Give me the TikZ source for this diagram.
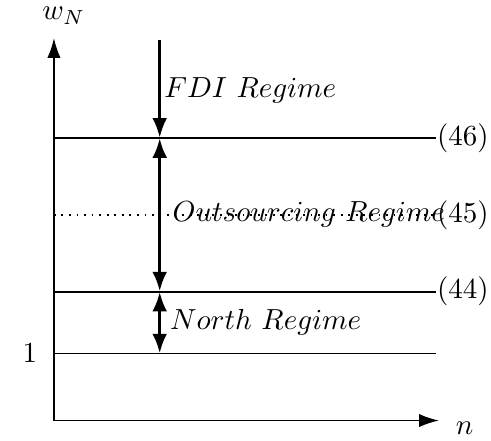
\documentclass[tikz,border=0pt]{standalone}
\usepackage{amsmath,amssymb}
\usepackage{tikz}
\usetikzlibrary{calc,positioning,arrows.meta}

\begin{document}
\begin{tikzpicture}[
    axis/.style={-{Latex[length=2.4mm,width=1.6mm]}, semithick},
    level/.style={semithick},
    regime/.style={very thick, {Latex[length=2.4mm,width=1.8mm]}-{Latex[length=2.4mm,width=1.8mm]}},
    lbl/.style={anchor=west, inner sep=0pt}
]
    \useasboundingbox (-0.653,-0.242) rectangle (5.29,5.09);

    % axes
    \coordinate (o) at (0, 0);
    \coordinate (xend) at (4.66, 0);
    \coordinate (yend) at (0, 4.63);
    \draw[axis] (o) -- (yend);
    \draw[axis] (o) -- (xend);
    \node[inner sep=1pt] (wN) at (0.12, 4.90) {$w_N$};
    \node (n) at (4.97, -0.09) {$n$};

    % wage levels
    \coordinate (l1) at (0, 0.81);
    \coordinate (r1) at (4.63, 0.81);
    \coordinate (l44) at (0, 1.56);
    \coordinate (r44) at (4.63, 1.56);
    \coordinate (l45) at (0, 2.49);
    \coordinate (r45) at (4.63, 2.49);
    \coordinate (l46) at (0, 3.42);
    \coordinate (r46) at (4.63, 3.42);
    \draw[level] (l1) -- (r1);
    \draw[level] (l44) -- (r44);
    \draw[semithick, dotted] (l45) -- (r45);
    \draw[level] (l46) -- (r46);
    \node (one) at (-0.29, 0.81) {$1$};
    \node[lbl] (e44) at (r44) {$(44)$};
    \node[lbl] (e45) at (r45) {$(45)$};
    \node[lbl] (e46) at (r46) {$(46)$};

    % regimes
    \coordinate (top) at (1.28, 4.61);
    \coordinate (a46) at (1.28, 3.42);
    \coordinate (a44) at (1.28, 1.56);
    \coordinate (a1) at (1.28, 0.81);
    \draw[very thick, -{Latex[length=2.4mm,width=1.8mm]}] (top) -- (a46);
    \draw[regime] (a46) -- (a44);
    \draw[regime] (a44) -- (a1);
    \node[lbl] (fdi) at (1.33, 4.0) {$FDI\ Regime$};
    \node[lbl] (out) at (1.43, 2.49) {$Outsourcing\ Regime$};
    \node[lbl] (north) at (1.40, 1.19) {$North\ Regime$};
\end{tikzpicture}
\end{document}
